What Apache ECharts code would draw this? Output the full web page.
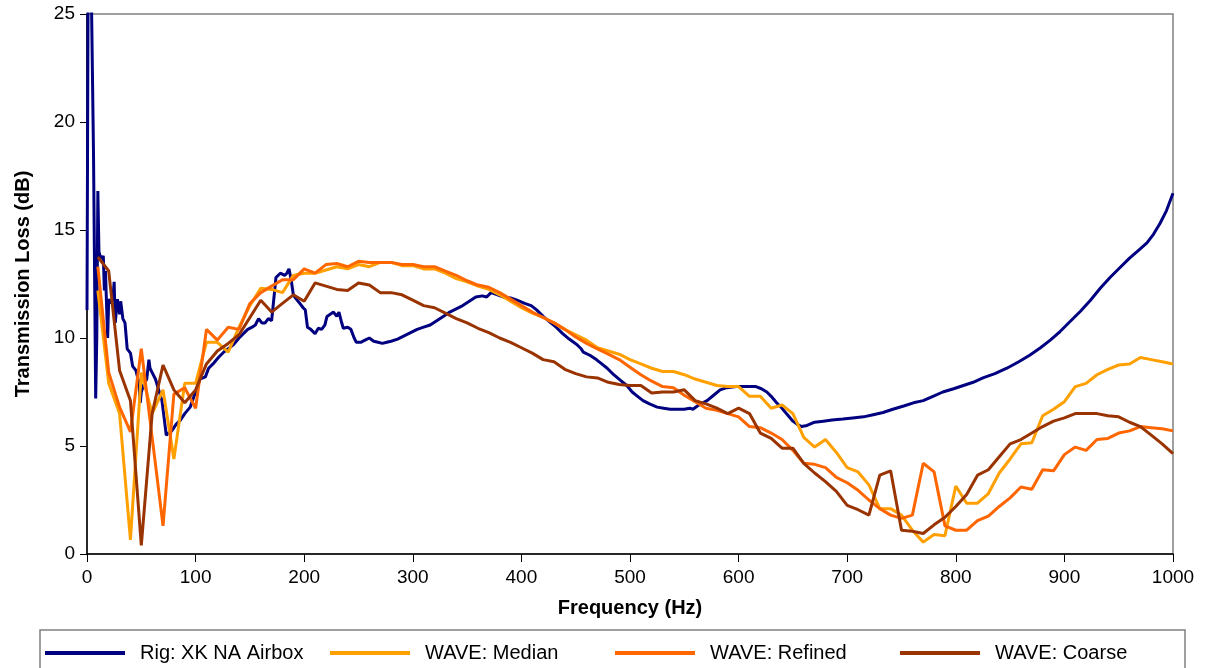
<!doctype html>
<html lang="en">
<head>
    <meta charset="UTF-8">
    <title>Transmission Loss</title>
    <script src="https://cdn.jsdelivr.net/npm/echarts@6/dist/echarts.min.js"></script>
    <style>
        html, body { margin: 0; padding: 0; background: #fff; }
        #main { width: 1212px; height: 668px; }
    </style>
</head>
<body>
<div id="main"></div>
<script>
// measured rig, [Hz, dB]
var rig = [
    [0,11.3],[1,26],[4,26],[6,18.5],[8,7.2],[9,10],[10,16.8],[11,14],[12,13.8],[14,13.7],[15,13.8],[16,12.2],
    [17,13.1],[19,10],[20,11.8],[22,11.6],[24,11.9],[25,12.6],[26,10.7],[28,11.8],[30,11.1],[31,11.7],[33,10.9],
    [35,10.7],[37,9.5],[40,9.3],[42,8.7],[45,8.5],[48,7.9],[49,7.0],[50,7.5],[52,7.8],[55,8.1],[57,9.0],[58,8.6],
    [60,8.4],[63,8.1],[66,7.6],[69,7.1],[71,6.3],[73,5.5],[75,5.6],[78,5.7],[82,6.0],[86,6.2],[90,6.5],[95,6.8],
    [100,7.5],[104,8.1],[109,8.2],[112,8.6],[116,8.8],[121,9.1],[126,9.35],[130,9.5],[135,9.7],[140,10.0],
    [144,10.2],[148,10.4],[152,10.5],[155,10.6],[158,10.9],[161,10.7],[164,10.7],[167,10.9],[170,10.8],
    [172,11.8],[174,12.8],[178,13.0],[182,12.9],[184,13.0],[186,13.2],[188,12.7],[190,12.0],[192,11.85],
    [196,11.6],[199,11.4],[201,11.3],[203,10.5],[206,10.4],[210,10.2],[213,10.45],[216,10.4],[219,10.6],
    [221,11.0],[224,11.1],[227,11.2],[230,11.0],[232,11.2],[234,10.8],[236,10.45],[240,10.5],[243,10.4],
    [246,10.0],[248,9.8],[252,9.8],[256,9.9],[260,10.0],[264,9.85],[268,9.8],[272,9.75],[276,9.8],[280,9.85],
    [286,9.95],[292,10.1],[298,10.25],[304,10.4],[310,10.5],[316,10.6],[322,10.8],[328,11.0],[334,11.2],
    [340,11.35],[346,11.5],[352,11.7],[358,11.9],[364,11.95],[368,11.9],[372,12.1],[378,12.0],[383,11.9],
    [390,11.85],[396,11.75],[403,11.6],[409,11.5],[414,11.3],[420,11.0],[426,10.75],[432,10.5],[438,10.2],
    [444,9.95],[451,9.7],[455,9.5],[457,9.35],[463,9.2],[469,9.0],[474,8.8],[479,8.6],[485,8.3],[491,8.05],
    [497,7.8],[502,7.5],[507,7.3],[512,7.1],[518,6.95],[525,6.8],[531,6.75],[537,6.7],[543,6.7],[550,6.7],
    [555,6.75],[558,6.7],[562,6.85],[567,7.0],[571,7.1],[577,7.35],[583,7.6],[589,7.7],[598,7.75],[607,7.75],
    [616,7.75],[621,7.65],[626,7.5],[630,7.3],[635,7.0],[640,6.75],[644,6.5],[650,6.15],[654,6.0],[658,5.9],
    [663,5.95],[670,6.1],[678,6.15],[686,6.2],[696,6.25],[705,6.3],[715,6.35],[724,6.45],[733,6.55],[742,6.7],
    [752,6.85],[761,7.0],[770,7.1],[779,7.3],[788,7.5],[798,7.65],[807,7.8],[816,7.95],[825,8.15],[836,8.35],
    [847,8.6],[858,8.9],[868,9.2],[878,9.55],[887,9.9],[896,10.3],[905,10.75],[915,11.25],[924,11.75],
    [933,12.3],[942,12.8],[951,13.25],[960,13.7],[968,14.05],[976,14.4],[982,14.8],[988,15.3],[994,15.9],[1000,16.7]
];

// WAVE runs, every 10 Hz from 10 to 1000
var waveFreq = [];
for (var f = 10; f <= 1000; f += 10) waveFreq.push(f);

var median = [
    12.2, 7.9, 6.5, 0.65, 8.4, 6.5, 7.6, 4.4, 7.9, 7.9,
    9.8, 9.8, 9.35, 10.5, 11.5, 12.3, 12.25, 12.1, 12.9, 13.0,
    13.0, 13.15, 13.3, 13.2, 13.4, 13.3, 13.5, 13.5, 13.35, 13.35,
    13.2, 13.2, 13.0, 12.75, 12.6, 12.4, 12.25, 12.0, 11.7, 11.4,
    11.15, 10.95, 10.7, 10.4, 10.15, 9.9, 9.55, 9.4, 9.25, 9.0,
    8.8, 8.6, 8.45, 8.45, 8.3, 8.1, 7.95, 7.8, 7.75, 7.75,
    7.3, 7.3, 6.75, 6.9, 6.5, 5.4, 4.95, 5.3, 4.7, 4.0,
    3.8, 3.2, 2.1, 2.1, 1.8, 1.1, 0.55, 0.9, 0.85, 3.15,
    2.35, 2.35, 2.8, 3.75, 4.4, 5.1, 5.15, 6.4, 6.7, 7.05,
    7.75, 7.9, 8.3, 8.55, 8.75, 8.8, 9.1, 9.0, 8.9, 8.8
];
var refined = [
    13.3, 8.4, 6.8, 5.65, 9.5, 5.4, 1.3, 7.4, 7.7, 6.75,
    10.4, 9.9, 10.5, 10.4, 11.6, 12.1, 12.4, 12.7, 12.7, 13.2,
    13.0, 13.4, 13.45, 13.3, 13.55, 13.5, 13.5, 13.5, 13.4, 13.4,
    13.3, 13.3, 13.1, 12.9, 12.65, 12.45, 12.35, 12.1, 11.8, 11.5,
    11.2, 10.95, 10.7, 10.4, 10.05, 9.75, 9.5, 9.25, 9.0, 8.65,
    8.3, 8.0, 7.75, 7.7, 7.35, 7.05, 6.75, 6.65, 6.5, 6.35,
    5.9, 5.85, 5.6, 5.3, 4.8, 4.2, 4.15, 4.0, 3.55, 3.3,
    2.95, 2.5, 2.1, 1.8, 1.65, 1.8, 4.2, 3.8, 1.3, 1.1,
    1.1, 1.55, 1.75, 2.2, 2.6, 3.1, 3.0, 3.9, 3.85, 4.6,
    4.95, 4.8, 5.3, 5.35, 5.6, 5.7, 5.9, 5.85, 5.8, 5.7
];
var coarse = [
    13.75, 13.1, 8.5, 7.1, 0.4, 6.5, 8.75, 7.6, 7.0, 7.6,
    8.8, 9.4, 9.75, 10.15, 10.95, 11.75, 11.2, 11.6, 12.0, 11.7,
    12.55, 12.4, 12.25, 12.2, 12.55, 12.45, 12.1, 12.1, 12.0, 11.75,
    11.5, 11.4, 11.15, 10.9, 10.7, 10.45, 10.25, 10.0, 9.8, 9.55,
    9.3, 9.0, 8.9, 8.55, 8.35, 8.2, 8.15, 7.95, 7.85, 7.8,
    7.8, 7.45, 7.5, 7.5, 7.6, 7.1, 6.95, 6.75, 6.5, 6.75,
    6.5, 5.6, 5.35, 4.9, 4.9, 4.2, 3.75, 3.35, 2.9, 2.25,
    2.05, 1.8, 3.65, 3.85, 1.1, 1.05, 0.95, 1.35, 1.7, 2.2,
    2.75, 3.65, 3.9, 4.5, 5.1, 5.3, 5.6, 5.9, 6.15, 6.3,
    6.5, 6.5, 6.5, 6.4, 6.35, 6.1, 5.9, 5.5, 5.1, 4.65
];

var names = ['Rig: XK NA Airbox', 'WAVE: Median', 'WAVE: Refined', 'WAVE: Coarse'];
var colors = ['#000080', '#FFA000', '#FF6600', '#993300'];

function pairs(vals) {
    return vals.map(function (v, i) { return [waveFreq[i], v]; });
}

var font = '"Liberation Sans", Arial, sans-serif';
var legendLeft = [40, 325, 610, 895];

var myChart = echarts.init(document.getElementById('main'));

var option = {
    animation: false,
    color: colors,
    grid: {
        left: 87, right: 39, top: 14, bottom: 114,
        show: true,
        borderColor: '#808080',
        borderWidth: 1.5
    },
    legend: names.map(function (n, i) {
        return {
            data: [n],
            left: legendLeft[i],
            top: 638,
            icon: 'rect',
            itemWidth: 80,
            itemHeight: 4,
            textStyle: { fontFamily: font, fontSize: 20, color: '#000', padding: [0, 0, 0, 10] }
        };
    }),
    graphic: [{
        type: 'rect',
        shape: { x: 40, y: 630, width: 1145, height: 60 },
        style: { fill: 'none', stroke: '#808080', lineWidth: 1.5 },
        silent: true
    }],
    xAxis: {
        type: 'value',
        min: 0, max: 1000, interval: 100,
        name: 'Frequency (Hz)',
        nameLocation: 'middle',
        nameGap: 44,
        nameTextStyle: { fontFamily: font, fontSize: 20, fontWeight: 'bold', color: '#000' },
        axisLine: { show: true, onZero: false, lineStyle: { color: '#000', width: 1.5 } },
        axisTick: { show: true, length: 8, lineStyle: { color: '#000' } },
        axisLabel: { margin: 14, fontFamily: font, fontSize: 19, color: '#000',
                     formatter: function (v) { return String(v); } },
        splitLine: { show: false }
    },
    yAxis: {
        type: 'value',
        min: 0, max: 25, interval: 5,
        name: 'Transmission Loss (dB)',
        nameLocation: 'middle',
        nameGap: 54,
        nameTextStyle: { fontFamily: font, fontSize: 20, fontWeight: 'bold', color: '#000' },
        axisLine: { show: true, lineStyle: { color: '#000', width: 1.5 } },
        axisTick: { show: true, length: 7, lineStyle: { color: '#000' } },
        axisLabel: { margin: 12, fontFamily: font, fontSize: 19, color: '#000' },
        splitLine: { show: false }
    },
    series: [
        { name: names[0], type: 'line', data: rig, showSymbol: false, symbol: 'none',
          lineStyle: { width: 3, color: colors[0] }, clip: true },
        { name: names[1], type: 'line', data: pairs(median), showSymbol: false, symbol: 'none',
          lineStyle: { width: 3, color: colors[1] } },
        { name: names[2], type: 'line', data: pairs(refined), showSymbol: false, symbol: 'none',
          lineStyle: { width: 3, color: colors[2] } },
        { name: names[3], type: 'line', data: pairs(coarse), showSymbol: false, symbol: 'none',
          lineStyle: { width: 3, color: colors[3] } }
    ]
};

myChart.setOption(option);
</script>
</body>
</html>
